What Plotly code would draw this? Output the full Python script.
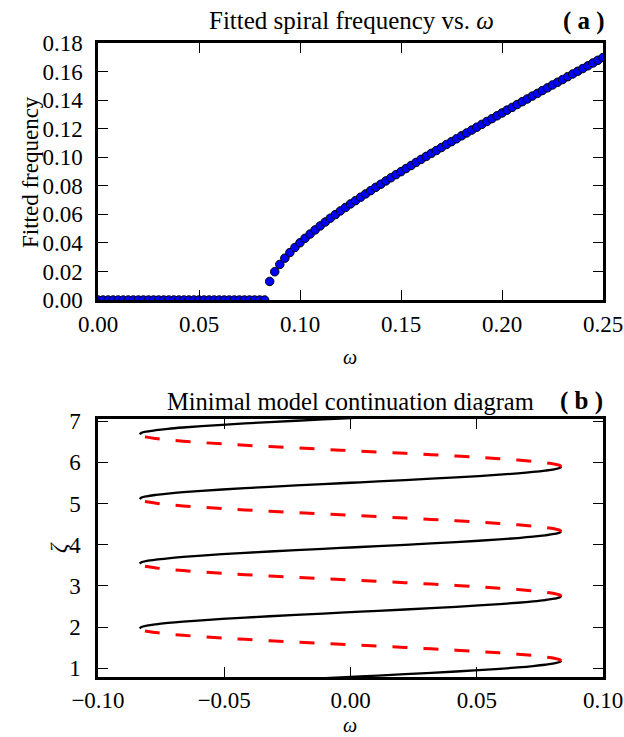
import plotly.graph_objects as go

# ---------------- Panel (a) data ----------------
omega_zero = [0.0, 0.0025, 0.005, 0.0075, 0.01, 0.0125, 0.015, 0.0175, 0.02, 0.0225,
              0.025, 0.0275, 0.03, 0.0325, 0.035, 0.0375, 0.04, 0.0425, 0.045, 0.0475,
              0.05, 0.0525, 0.055, 0.0575, 0.06, 0.0625, 0.065, 0.0675, 0.07, 0.0725,
              0.075, 0.0775, 0.08, 0.0825]
freq_zero = [0.0] * len(omega_zero)

omega_osc = [0.085, 0.0875, 0.09, 0.0925, 0.095, 0.0975, 0.1, 0.1025, 0.105, 0.1075,
             0.11, 0.1125, 0.115, 0.1175, 0.12, 0.1225, 0.125, 0.1275, 0.13, 0.1325,
             0.135, 0.1375, 0.14, 0.1425, 0.145, 0.1475, 0.15, 0.1525, 0.155, 0.1575,
             0.16, 0.1625, 0.165, 0.1675, 0.17, 0.1725, 0.175, 0.1775, 0.18, 0.1825,
             0.185, 0.1875, 0.19, 0.1925, 0.195, 0.1975, 0.2, 0.2025, 0.205, 0.2075,
             0.21, 0.2125, 0.215, 0.2175, 0.22, 0.2225, 0.225, 0.2275, 0.23, 0.2325,
             0.235, 0.2375, 0.24, 0.2425, 0.245, 0.2475, 0.25]
freq_osc = [0.0130, 0.0198, 0.0249, 0.0293, 0.0332, 0.0368, 0.0401, 0.0432, 0.0462, 0.0491,
            0.0519, 0.0546, 0.0573, 0.0598, 0.0624, 0.0648, 0.0673, 0.0696, 0.0720, 0.0743,
            0.0766, 0.0789, 0.0811, 0.0834, 0.0856, 0.0878, 0.0899, 0.0921, 0.0942, 0.0964,
            0.0985, 0.1006, 0.1027, 0.1047, 0.1068, 0.1089, 0.1109, 0.1129, 0.1150, 0.1170,
            0.1190, 0.1210, 0.1230, 0.1250, 0.1270, 0.1290, 0.1310, 0.1330, 0.1349, 0.1369,
            0.1389, 0.1408, 0.1428, 0.1447, 0.1467, 0.1486, 0.1506, 0.1525, 0.1544, 0.1564,
            0.1583, 0.1602, 0.1621, 0.1640, 0.1660, 0.1679, 0.1698]

a_xticks = [0.0, 0.05, 0.10, 0.15, 0.20, 0.25]
a_xticklabels = ["0.00", "0.05", "0.10", "0.15", "0.20", "0.25"]
a_yticks = [0.0, 0.02, 0.04, 0.06, 0.08, 0.10, 0.12, 0.14, 0.16, 0.18]
a_yticklabels = ["0.00", "0.02", "0.04", "0.06", "0.08", "0.10", "0.12", "0.14", "0.16", "0.18"]

# ---------------- Panel (b) data ----------------
# shape of one branch between two folds (zeta offset from fold, omega)
branch_dzeta = [0.0, 0.0327, 0.0654, 0.0982, 0.1309, 0.1636, 0.1963, 0.2291, 0.2618,
                0.2945, 0.3272, 0.3600, 0.3927, 0.4254, 0.4581, 0.4909, 0.5236, 0.5563,
                0.5890, 0.6218, 0.6545, 0.6872, 0.7199, 0.7527, 0.7854]
stable_omega = [-0.0835, -0.0828, -0.0807, -0.0771, -0.0723, -0.0663, -0.0590, -0.0508,
                -0.0418, -0.0320, -0.0216, -0.0109, 0.0, 0.0109, 0.0216, 0.0320, 0.0418,
                0.0508, 0.0590, 0.0663, 0.0723, 0.0771, 0.0807, 0.0828, 0.0835]
unstable_omega = [0.0835, 0.0828, 0.0807, 0.0771, 0.0723, 0.0663, 0.0590, 0.0508,
                  0.0418, 0.0320, 0.0216, 0.0109, 0.0, -0.0109, -0.0216, -0.0320, -0.0418,
                  -0.0508, -0.0590, -0.0663, -0.0723, -0.0771, -0.0807, -0.0828, -0.0835]
left_fold_zeta = [0.40, 1.97, 3.54, 5.11, 6.68]
right_fold_zeta = [1.18, 2.75, 4.32, 5.89]

b_xticks = [-0.10, -0.05, 0.0, 0.05, 0.10]
b_xticklabels = ["\u22120.10", "\u22120.05", "0.00", "0.05", "0.10"]
b_yticks = [1, 2, 3, 4, 5, 6, 7]
b_yticklabels = ["1", "2", "3", "4", "5", "6", "7"]

# ---------------- Figure ----------------
W, H = 624, 737
FONT = "Liberation Serif"
FS = 23
TFS = 25
LFS = 20


def px(x):
    return x / W


def py(y):
    return 1 - y / H


fig = go.Figure()

fig.add_trace(go.Scatter(
    x=omega_zero + omega_osc, y=freq_zero + freq_osc, mode="markers",
    marker=dict(size=8.5, color="#0000ff", line=dict(color="black", width=1)),
    xaxis="x", yaxis="y", showlegend=False, cliponaxis=True))

for z0 in left_fold_zeta:
    fig.add_trace(go.Scatter(
        x=stable_omega, y=[z0 + d for d in branch_dzeta], mode="lines",
        line=dict(color="black", width=2.3, shape="spline"),
        xaxis="x2", yaxis="y2", showlegend=False))
for z0 in right_fold_zeta:
    fig.add_trace(go.Scatter(
        x=unstable_omega, y=[z0 + d for d in branch_dzeta], mode="lines",
        line=dict(color="#ff0000", width=3, dash="15px,16px", shape="spline"),
        xaxis="x2", yaxis="y2", showlegend=False))

axis_common = dict(
    showline=True, linecolor="black", linewidth=2.5, mirror="ticks",
    ticks="inside", ticklen=10, tickwidth=1.2, tickcolor="black",
    showgrid=False, zeroline=False, automargin=False,
    tickfont=dict(family=FONT, size=FS, color="black"),
)

fig.update_layout(
    template="none",
    width=W, height=H,
    margin=dict(l=0, r=0, t=0, b=0, pad=0, autoexpand=False),
    paper_bgcolor="white", plot_bgcolor="white",
    xaxis=dict(domain=[px(98), px(603)], range=[0, 0.25], anchor="y",
               tickvals=a_xticks, ticktext=a_xticklabels, ticklabelstandoff=2, **axis_common),
    yaxis=dict(domain=[py(300), py(43)], range=[0, 0.18], anchor="x",
               tickvals=a_yticks, ticktext=a_yticklabels, ticklabelstandoff=8, **axis_common),
    xaxis2=dict(domain=[px(98), px(603)], range=[-0.10, 0.10], anchor="y2",
                tickvals=b_xticks, ticktext=b_xticklabels, ticklabelstandoff=1, **axis_common),
    yaxis2=dict(domain=[py(677), py(419)], range=[0.79, 7.05], anchor="x2",
                tickvals=b_yticks, ticktext=b_yticklabels, ticklabelstandoff=10, **axis_common),
)

annotations = [
    dict(text="Fitted spiral frequency vs. <i>\u03c9</i>", x=px(351), y=py(21), size=TFS),
    dict(text="<b>( a )</b>", x=px(584), y=py(21), size=TFS),
    dict(text="<i>\u03c9</i>", x=px(350), y=py(357), size=LFS),
    dict(text="Fitted frequency", x=px(30), y=py(172), textangle=-90, size=FS),
    dict(text="Minimal model continuation diagram", x=px(350), y=py(401), size=TFS - 0.5),
    dict(text="<b>( b )</b>", x=px(581), y=py(401), size=TFS),
    dict(text="<i>\u03c9</i>", x=px(350), y=py(725), size=LFS),
    dict(text="<i>\u03b6</i>", x=px(58), y=py(548), textangle=-90, size=FS),
]
for a in annotations:
    size = a.pop("size")
    fig.add_annotation(xref="paper", yref="paper", showarrow=False,
                       xanchor="center", yanchor="middle",
                       font=dict(family=FONT, size=size, color="black"), **a)

fig.write_html("out.html")
